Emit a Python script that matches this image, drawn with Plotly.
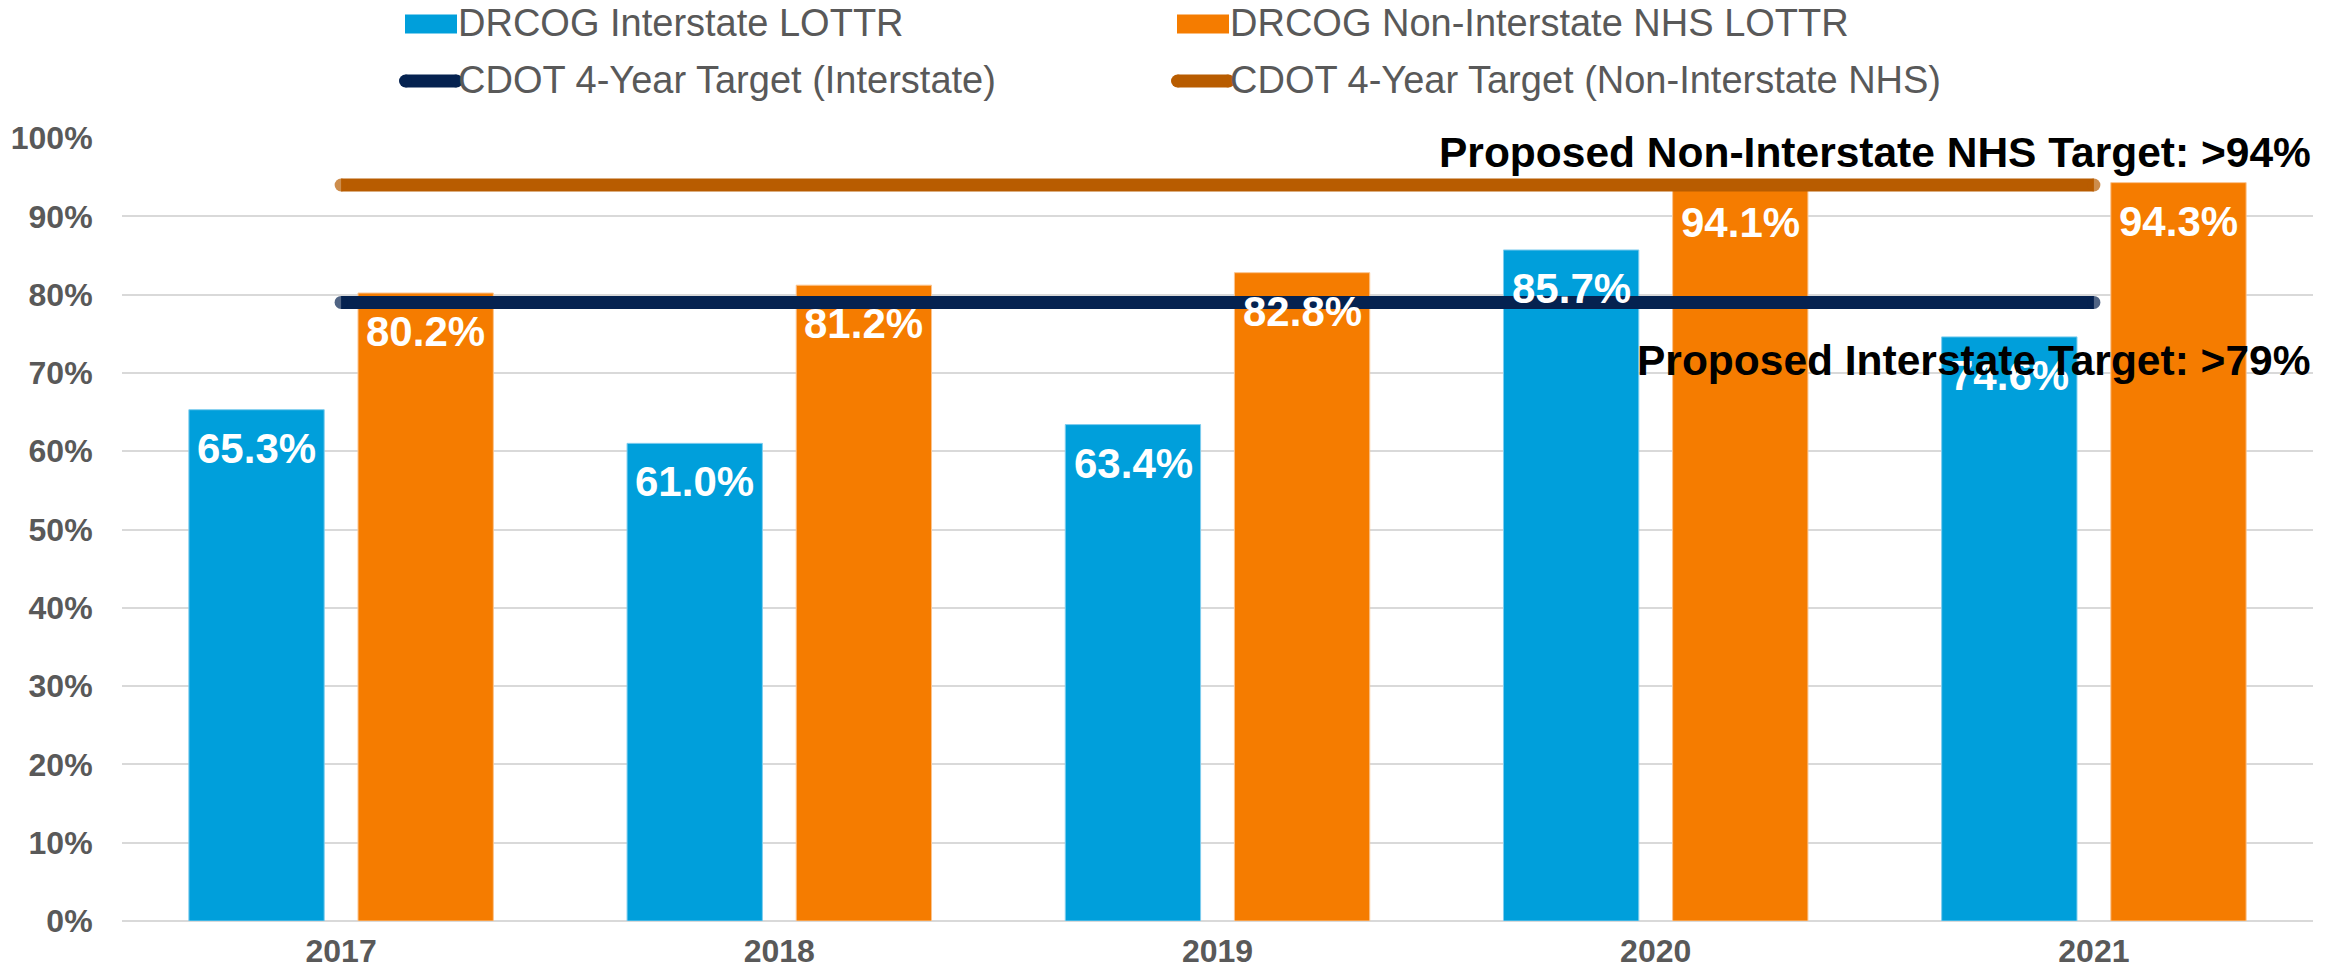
import plotly.graph_objects as go

years = ["2017", "2018", "2019", "2020", "2021"]
interstate_lottr = [65.3, 61.0, 63.4, 85.7, 74.6]
non_interstate_lottr = [80.2, 81.2, 82.8, 94.1, 94.3]
target_interstate = [79, 79, 79, 79, 79]
target_non_interstate = [94, 94, 94, 94, 94]
y_ticks = [0, 10, 20, 30, 40, 50, 60, 70, 80, 90, 100]
y_tick_labels = [f"{v}%" for v in y_ticks]

series_names = [
    "DRCOG Interstate LOTTR",
    "DRCOG Non-Interstate NHS LOTTR",
    "CDOT 4-Year Target (Interstate)",
    "CDOT 4-Year Target (Non-Interstate NHS)",
]

BLUE = "#009fdb"
ORANGE = "#f57c00"
NAVY = "#052250"
BROWN = "#b85c00"
GRAY = "#595959"
FONT = "Liberation Sans"

W, H = 2341, 974
M_L, M_R, M_T, M_B = 122, 28, 138, 53
PLOT_W = W - M_L - M_R
PLOT_H = H - M_T - M_B


def px_x(px):
    """Horizontal page pixel -> paper coordinate."""
    return (px - M_L) / PLOT_W


def px_y(py):
    """Vertical page pixel (from top) -> paper coordinate."""
    return (H - M_B - py) / PLOT_H


fig = go.Figure()

fig.add_trace(go.Bar(
    x=years, y=interstate_lottr, name=series_names[0],
    marker=dict(color=BLUE, line=dict(color="#7fcdee", width=1)),
))
fig.add_trace(go.Bar(
    x=years, y=non_interstate_lottr, name=series_names[1],
    marker=dict(color=ORANGE, line=dict(color="#fbc48f", width=1)),
))

# target lines, with round end caps drawn as markers at the first and last year
cap = [13, 0, 0, 0, 13]
fig.add_trace(go.Scatter(
    x=years, y=target_interstate, name=series_names[2],
    mode="lines+markers", line=dict(color=NAVY, width=13),
    marker=dict(color=NAVY, size=cap, line=dict(width=0)),
))
fig.add_trace(go.Scatter(
    x=years, y=target_non_interstate, name=series_names[3],
    mode="lines+markers", line=dict(color=BROWN, width=13),
    marker=dict(color=BROWN, size=cap, line=dict(width=0)),
))

annotations = []
# value labels at the top inside each bar (x given as category index)
for i in range(len(years)):
    for vals, shift in ((interstate_lottr, -84.5), (non_interstate_lottr, 84.5)):
        annotations.append(dict(
            x=i, y=vals[i], xref="x", yref="y", text=f"{vals[i]:.1f}%",
            showarrow=False, xanchor="center", yanchor="top",
            xshift=shift, yshift=-13,
            font=dict(family=FONT, size=42, color="white", weight="bold"),
        ))

annotations.append(dict(
    x=1, y=98.1, xref="paper", yref="y", xanchor="right", yanchor="middle",
    text="Proposed Non-Interstate NHS Target: >94%", showarrow=False,
    font=dict(family=FONT, size=42.5, color="black", weight="bold"),
))
annotations.append(dict(
    x=1, y=71.6, xref="paper", yref="y", xanchor="right", yanchor="middle",
    text="Proposed Interstate Target: >79%", showarrow=False,
    font=dict(family=FONT, size=42.5, color="black", weight="bold"),
))

# legend: two rows, two columns, drawn above the plot
shapes = []
legend_cols = [405, 1177]
legend_rows = [24, 81]
swatch_colors = [BLUE, ORANGE, NAVY, BROWN]
for k, name in enumerate(series_names):
    col, row = k % 2, k // 2
    x0 = legend_cols[col]
    yc = legend_rows[row]
    if row == 0:
        shapes.append(dict(
            type="rect", xref="paper", yref="paper",
            x0=px_x(x0), x1=px_x(x0 + 52), y0=px_y(yc - 9.5), y1=px_y(yc + 9.5),
            fillcolor=swatch_colors[k], line=dict(width=0), layer="above",
        ))
    else:
        xa, xb = x0 - 6 + 6.5, x0 - 6 + 64 - 6.5
        shapes.append(dict(
            type="line", xref="paper", yref="paper",
            x0=px_x(xa), x1=px_x(xb), y0=px_y(yc), y1=px_y(yc),
            line=dict(color=swatch_colors[k], width=13), layer="above",
        ))
        for xe in (xa, xb):
            shapes.append(dict(
                type="circle", xref="paper", yref="paper",
                xsizemode="pixel", ysizemode="pixel",
                xanchor=px_x(xe), yanchor=px_y(yc),
                x0=-6.5, x1=6.5, y0=-6.5, y1=6.5,
                fillcolor=swatch_colors[k], line=dict(width=0), layer="above",
            ))
    annotations.append(dict(
        x=px_x(x0 + 51), y=px_y(yc - 1.5), xref="paper", yref="paper",
        xanchor="left", yanchor="middle", text=name, showarrow=False,
        font=dict(family=FONT, size=38, color=GRAY),
    ))

fig.update_layout(
    width=W, height=H,
    margin=dict(l=M_L, r=M_R, t=M_T, b=M_B, autoexpand=False),
    paper_bgcolor="white", plot_bgcolor="white",
    barmode="group", bargap=0.228, bargroupgap=0.2,
    showlegend=False,
    annotations=annotations,
    shapes=shapes,
    xaxis=dict(
        type="category", showgrid=False, showline=False, zeroline=False,
        automargin=False,
        ticks="outside", ticklen=2, tickcolor="rgba(0,0,0,0)",
        tickfont=dict(family=FONT, size=32, color=GRAY, weight="bold"),
    ),
    yaxis=dict(
        range=[0, 100], tickmode="array", tickvals=y_ticks, ticktext=y_tick_labels,
        automargin=False,
        showgrid=True, gridcolor="#d9d9d9", gridwidth=2,
        zeroline=True, zerolinecolor="#d9d9d9", zerolinewidth=2, showline=False,
        ticks="outside", ticklen=22, tickcolor="rgba(0,0,0,0)",
        tickfont=dict(family=FONT, size=32, color=GRAY, weight="bold"),
    ),
)

fig.write_html("out.html")
